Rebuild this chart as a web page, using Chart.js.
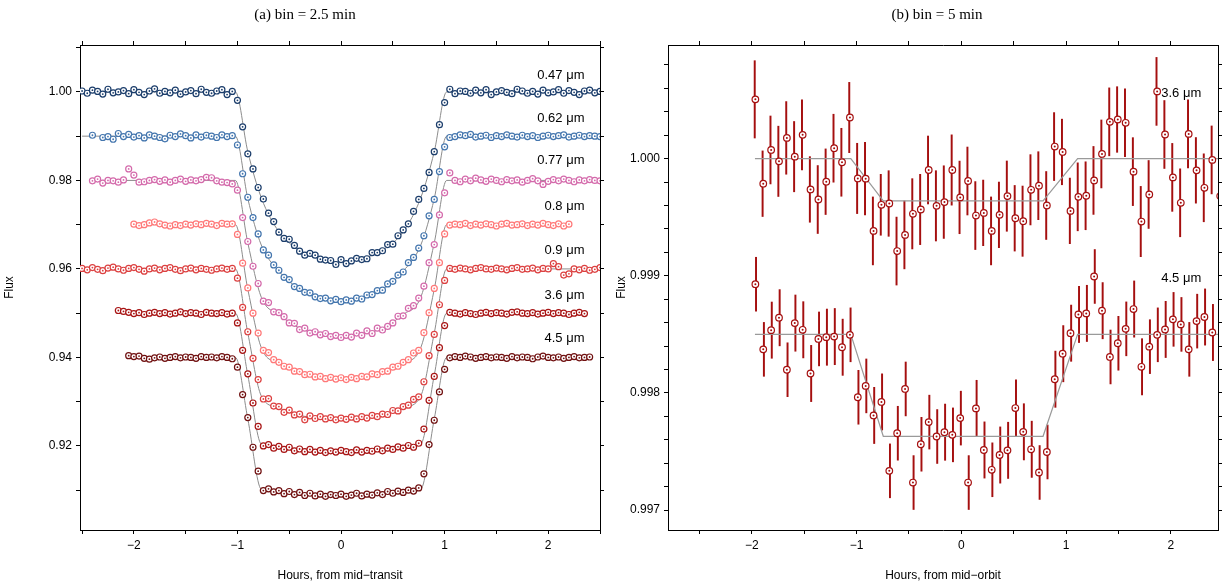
<!DOCTYPE html>
<html><head><meta charset="utf-8">
<script src="https://cdn.jsdelivr.net/npm/chart.js@4"></script>
<style>
body{margin:0;background:#fff;width:1224px;height:585px;position:relative;overflow:hidden}
.panel{position:absolute;top:0;width:612px;height:585px}
.ttl{position:absolute;top:6px;width:240px;text-align:center;font:15px "Liberation Serif",serif;color:#000}
</style></head><body>
<div class="panel" style="left:0"><canvas id="left"></canvas></div>
<div class="panel" style="left:612px"><canvas id="right"></canvas></div>
<div class="ttl" style="left:185px">(a) bin = 2.5 min</div>
<div class="ttl" style="left:817px">(b) bin = 5 min</div>
<script>
// ---- panel (a): binned light curves, 0.05 h cadence ----
var stepA = 0.05;
var bandNames = ["0.47 μm", "0.62 μm", "0.77 μm", "0.8 μm", "0.9 μm", "3.6 μm", "4.5 μm"];
var bandColors = ["#1b3d6b", "#4476ae", "#d46aab", "#ff7878", "#dc4040", "#a81414", "#701010"];
var bandStart = [-2.5, -2.5, -2.4, -2.0, -2.5, -2.15, -2.05];
var labelY = [1.0038, 0.9939, 0.9845, 0.9742, 0.9641, 0.9541, 0.9444];

var f047 = [1.0002,0.9997,1.0004,1.0001,0.9995,1.0006,0.9998,1.0000,1.0003,0.9996,
1.0005,0.9999,0.9994,1.0002,1.0007,0.9997,1.0001,0.9998,1.0004,0.9995,
1.0000,1.0003,0.9996,1.0006,0.9999,0.9997,1.0002,1.0005,0.9994,1.0001,
0.9981,0.9921,0.9860,0.9826,0.9784,0.9758,0.9726,0.9707,0.9683,0.9669,
0.9667,0.9653,0.9640,0.9631,0.9635,0.9631,0.9622,0.9620,0.9619,0.9610,
0.9621,0.9612,0.9618,0.9624,0.9621,0.9623,0.9637,0.9637,0.9641,0.9655,
0.9656,0.9675,0.9688,0.9702,0.9730,0.9757,0.9782,0.9818,0.9865,0.9926,0.9976,
1.0006,0.9996,1.0002,1.0001,0.9997,1.0004,0.9998,1.0005,0.9994,
1.0000,1.0003,0.9999,0.9996,1.0006,1.0002,0.9997,1.0001,0.9995,1.0004,
0.9998,1.0000,1.0005,0.9997,1.0003,0.9999,0.9994,1.0002,1.0004,0.9998,1.0001];

var f062 = [null,null,0.9902,null,0.9897,0.9899,0.9893,0.9906,0.9899,0.9904,
0.9898,0.9901,0.9896,0.9903,0.9900,0.9897,0.9894,0.9902,0.9899,0.9905,
0.9901,0.9896,0.9903,0.9898,0.9902,0.9900,0.9897,0.9903,0.9899,0.9901,
0.9880,0.9815,0.9762,0.9716,0.9679,0.9643,0.9631,0.9609,0.9597,0.9581,
0.9576,0.9560,0.9556,0.9547,0.9546,0.9537,0.9533,0.9534,0.9528,0.9531,0.9526,
0.9530,0.9527,0.9534,0.9532,0.9541,0.9542,0.9551,0.9552,0.9566,0.9572,
0.9586,0.9593,0.9614,0.9626,0.9647,0.9675,0.9720,0.9757,0.9820,0.9876,
0.9897,0.9899,0.9903,0.9901,0.9904,0.9898,0.9900,0.9902,0.9897,0.9901,
0.9899,0.9903,0.9900,0.9898,0.9902,0.9899,0.9901,0.9897,0.9900,0.9902,
0.9899,0.9901,0.9903,0.9898,0.9900,0.9902,0.9899,0.9901,0.9900,0.9899];

var f077 = [0.9799,0.9803,0.9794,0.9800,0.9799,0.9796,0.9801,0.9826,0.9812,0.9796,
0.9797,0.9800,0.9802,0.9798,0.9801,0.9796,0.9800,0.9803,0.9798,0.9801,
0.9799,0.9802,0.9807,0.9806,0.9799,0.9796,0.9795,0.9792,
0.9778,0.9716,0.9662,0.9606,0.9567,0.9527,0.9524,0.9503,0.9501,0.9492,
0.9478,0.9477,0.9463,0.9466,0.9455,0.9458,0.9451,0.9454,0.9447,0.9450,0.9445,
0.9450,0.9446,0.9455,0.9450,0.9460,0.9454,0.9466,0.9462,0.9470,0.9478,
0.9493,0.9494,0.9511,0.9517,0.9534,0.9561,0.9614,0.9655,0.9722,0.9772,
0.9817,0.9800,0.9797,0.9803,0.9799,0.9805,0.9801,0.9798,0.9803,0.9800,
0.9797,0.9802,0.9799,0.9801,0.9796,0.9800,0.9804,0.9799,0.9791,0.9798,
0.9802,0.9799,0.9803,0.9800,0.9797,0.9801,0.9799,0.9802,0.9800,0.9799];

var f080 = [0.9701,0.9698,0.9700,0.9704,0.9706,0.9702,0.9699,0.9697,0.9700,0.9698,
0.9701,0.9699,0.9702,0.9700,0.9703,0.9701,0.9698,0.9703,0.9701,0.9702,
0.9678,0.9613,0.9557,0.9500,0.9455,0.9416,0.9411,0.9395,0.9389,0.9380,
0.9378,0.9369,0.9368,0.9361,0.9362,0.9356,0.9357,0.9352,0.9355,0.9351,0.9354,
0.9350,0.9355,0.9352,0.9357,0.9356,0.9363,0.9361,0.9368,0.9369,0.9378,
0.9380,0.9389,0.9395,0.9410,0.9416,0.9456,0.9501,0.9556,0.9614,0.9679,
0.9699,0.9701,0.9700,0.9703,0.9698,0.9701,0.9699,0.9702,0.9700,0.9697,
0.9701,0.9703,0.9699,0.9700,0.9702,0.9698,0.9701,0.9699,0.9703,0.9700,
0.9698,0.9702,0.9697,0.9701];

var f090 = [0.9601,0.9598,0.9603,0.9599,0.9596,0.9602,0.9604,0.9600,0.9597,0.9601,
0.9603,0.9599,0.9595,0.9600,0.9602,0.9598,0.9601,0.9603,0.9599,0.9596,
0.9600,0.9602,0.9598,0.9601,0.9599,0.9597,0.9600,0.9602,0.9599,0.9601,
0.9579,0.9513,0.9458,0.9398,0.9350,0.9306,0.9307,0.9290,0.9289,0.9276,
0.9281,0.9270,0.9272,0.9259,0.9268,0.9262,0.9266,0.9261,0.9264,0.9259,0.9263,
0.9260,0.9265,0.9261,0.9266,0.9263,0.9269,0.9266,0.9272,0.9271,0.9280,
0.9279,0.9289,0.9292,0.9305,0.9311,0.9345,0.9404,0.9452,0.9519,0.9574,
0.9601,0.9599,0.9602,0.9600,0.9598,0.9601,0.9603,0.9600,0.9599,0.9602,
0.9600,0.9598,0.9601,0.9603,0.9599,0.9600,0.9602,0.9598,0.9601,0.9600,
0.9612,0.9605,0.9586,0.9589,0.9600,0.9598,0.9601,0.9597,0.9599,0.9603];

var f360 = [0.9506,0.9504,0.9502,0.9499,0.9501,0.9497,0.9500,0.9502,0.9499,0.9501,
0.9498,0.9500,0.9503,0.9499,0.9501,0.9500,0.9497,0.9502,0.9500,0.9499,
0.9501,0.9498,0.9500,
0.9478,0.9416,0.9363,0.9297,0.9244,0.9200,0.9203,0.9195,0.9199,0.9192,
0.9197,0.9189,0.9193,0.9187,0.9192,0.9186,0.9190,0.9185,0.9189,0.9186,0.9190,
0.9187,0.9185,0.9191,0.9186,0.9190,0.9188,0.9193,0.9189,0.9195,0.9192,
0.9198,0.9195,0.9201,0.9197,0.9206,0.9238,0.9303,0.9357,0.9422,0.9472,
0.9502,0.9500,0.9498,0.9501,0.9499,0.9497,0.9500,0.9502,0.9499,0.9501,
0.9500,0.9498,0.9502,0.9503,0.9500,0.9499,0.9501,0.9498,0.9500,0.9502,
0.9499,0.9501,0.9500,0.9497,0.9500,0.9502,0.9499];

var f450 = [0.9404,0.9402,0.9403,0.9398,0.9396,0.9399,0.9401,0.9398,0.9400,0.9402,
0.9399,0.9401,0.9400,0.9398,0.9402,0.9400,0.9401,0.9399,0.9402,0.9400,0.9397,
0.9378,0.9316,0.9264,0.9197,0.9143,0.9099,0.9103,0.9096,0.9099,0.9092,
0.9097,0.9090,0.9095,0.9088,0.9093,0.9087,0.9091,0.9086,0.9090,0.9088,0.9091,
0.9086,0.9089,0.9093,0.9087,0.9091,0.9089,0.9094,0.9090,0.9097,0.9093,
0.9098,0.9095,0.9100,0.9098,0.9105,0.9137,0.9203,0.9258,0.9322,0.9373,
0.9399,0.9402,0.9400,0.9403,0.9401,0.9398,0.9400,0.9402,0.9399,0.9401,
0.9400,0.9398,0.9402,0.9399,0.9401,0.9400,0.9397,0.9401,0.9403,0.9400,
0.9399,0.9401,0.9398,0.9400,0.9402,0.9399,0.9400,0.9401];

var bandFlux = [f047, f062, f077, f080, f090, f360, f450];

// transit model knots (hours), per-band model flux
var modelX = [-1.02,-0.9,-0.77,-0.6,-0.4,-0.2,0,0.2,0.4,0.6,0.77,0.9,1.02];
var m047 = [1.000,0.9865,0.9761,0.9684,0.9642,0.9623,0.9615,0.9623,0.9642,0.9684,0.9761,0.9865,1.000];
var m062 = [0.990,0.9759,0.9654,0.9595,0.9554,0.9535,0.9528,0.9535,0.9554,0.9595,0.9654,0.9759,0.990];
var m077 = [0.980,0.9659,0.9536,0.9497,0.9466,0.9453,0.9448,0.9453,0.9466,0.9497,0.9536,0.9659,0.980];
var m080 = [0.970,0.9554,0.9422,0.9387,0.9366,0.9356,0.9352,0.9356,0.9366,0.9387,0.9422,0.9554,0.970];
var m090 = [0.960,0.9455,0.9313,0.9286,0.9269,0.9264,0.9262,0.9264,0.9269,0.9286,0.9313,0.9455,0.960];
var m360 = [0.950,0.9360,0.9204,0.9196,0.9191,0.9188,0.9188,0.9188,0.9191,0.9196,0.9204,0.9360,0.950];
var m450 = [0.940,0.9261,0.9102,0.9096,0.9093,0.9090,0.9090,0.9090,0.9093,0.9096,0.9102,0.9261,0.940];
var bandModel = [m047, m062, m077, m080, m090, m360, m450];

// ---- panel (b): Spitzer, 5 min bins ----
var startB = -1.966, stepB = 0.0752;
var r36 = [1.000506,0.999786,1.000074,0.999977,1.000177,1.000017,1.000203,0.999737,0.999651,0.999803,
1.000089,0.999969,1.000351,0.999831,0.999829,0.999383,0.999606,0.999617,0.999211,0.999349,
0.999529,0.999566,0.999903,0.999597,0.999629,0.999903,0.999669,0.999809,0.999514,0.999537,
0.999383,0.999520,0.999680,0.999491,0.999466,0.999734,0.999769,0.999600,1.000103,1.000057,
0.999554,0.999674,0.999683,0.999814,1.000040,1.000314,1.000334,1.000306,0.999889,0.999463,
0.999694,1.000574,1.000206,0.999840,0.999623,1.000211,0.999900,0.999751,0.999989,0.999680];
var e36 = [0.00033,0.00028,0.00029,0.00030,0.00031,0.00030,0.00030,0.00028,0.00029,0.00028,
0.00029,0.00029,0.00030,0.00030,0.00031,0.00029,0.00026,0.00028,0.00029,0.00029,
0.00030,0.00030,0.00029,0.00030,0.00031,0.00030,0.00031,0.00029,0.00029,0.00028,
0.00029,0.00028,0.00030,0.00028,0.00030,0.00030,0.00029,0.00029,0.00029,0.00028,
0.00028,0.00029,0.00029,0.00029,0.00029,0.00029,0.00028,0.00029,0.00029,0.00030,
0.00029,0.00029,0.00029,0.00029,0.00029,0.00029,0.00028,0.00029,0.00029,0.00030];
var r45 = [0.998928,0.998372,0.998536,0.998642,0.998198,0.998596,0.998539,0.998166,0.998461,0.998476,
0.998481,0.998390,0.998496,0.997963,0.998060,0.997808,0.997923,0.997335,0.997656,0.998034,
0.997235,0.997562,0.997751,0.997628,0.997665,0.997642,0.997785,0.997235,0.997868,0.997513,
0.997344,0.997470,0.997510,0.997871,0.997668,0.997519,0.997321,0.997496,0.998117,0.998335,
0.998510,0.998670,0.998679,0.998994,0.998702,0.998307,0.998424,0.998547,0.998716,0.998223,
0.998395,0.998496,0.998542,0.998628,0.998585,0.998372,0.998613,0.998648,0.998516];
var e45 = [0.00023,0.00023,0.00024,0.00024,0.00023,0.00024,0.00024,0.00024,0.00023,0.00024,
0.00024,0.00024,0.00023,0.00023,0.00023,0.00024,0.00024,0.00023,0.00023,0.00023,
0.00023,0.00023,0.00023,0.00023,0.00024,0.00023,0.00023,0.00023,0.00024,0.00024,
0.00023,0.00024,0.00024,0.00024,0.00024,0.00024,0.00023,0.00023,0.00024,0.00024,
0.00024,0.00024,0.00024,0.00023,0.00024,0.00023,0.00023,0.00023,0.00024,0.00024,
0.00023,0.00023,0.00024,0.00023,0.00023,0.00023,0.00023,0.00024,0.00024];
var rModelX = [-1.97,-1.055,-0.745,0.78,1.11,2.47];
var rModel36 = [1.0,1.0,0.99964,0.99964,1.0,1.0];
var rModel45 = [0.9985,0.9985,0.99763,0.99763,0.9985,0.9985];
var rNames = ["3.6 μm", "4.5 μm"];
var rLabelY = [1.00056, 0.99898];

var FONT = '"Liberation Sans", Arial, sans-serif';

function pts(start, step, vals) {
    return vals.map((v, i) => ({ x: start + i * step, y: v }));
}

function labelPlugin(names, ys, xr) {
    return {
        id: "bandLabels",
        afterDatasetsDraw(chart) {
            const ctx = chart.ctx, sx = chart.scales.x, sy = chart.scales.y;
            ctx.save();
            ctx.font = "13px " + FONT;
            ctx.fillStyle = "#000";
            ctx.textAlign = "right";
            ctx.textBaseline = "middle";
            names.forEach((n, i) => ctx.fillText(n, sx.getPixelForValue(xr), sy.getPixelForValue(ys[i])));
            ctx.restore();
        }
    };
}

function axis(pos, min, max, step, labelFn, size, title) {
    const horiz = pos === "bottom" || pos === "top";
    return {
        type: "linear", position: pos, min: min, max: max, offset: false,
        afterBuildTicks(scale) {
            const t = [];
            for (let k = Math.ceil(min / step - 1e-9); k * step <= max + 1e-12; k++) t.push({ value: +(k * step).toFixed(6) });
            scale.ticks = t;
        },
        afterFit(scale) { if (horiz) scale.height = size; else scale.width = size; },
        ticks: { display: !!labelFn, callback: labelFn || (() => ""), font: { family: FONT, size: 12 }, color: "#000", autoSkip: false, maxRotation: 0, padding: 4 },
        grid: { drawOnChartArea: false, drawTicks: true, tickLength: 4, color: "#000", offset: false },
        border: { color: "#000", width: 1 },
        title: { display: !!title, text: title, font: { family: FONT, size: 12 }, color: "#000", padding: { top: 2, bottom: 2 } }
    };
}

function hourLabel(v) {
    if (Math.abs(v - Math.round(v)) > 1e-6) return "";
    return v < 0 ? "\u2212" + Math.abs(Math.round(v)) : String(Math.round(v));
}

// ---- build panel (a) ----
var dsA = [];
bandNames.forEach((name, b) => {
    const data = pts(bandStart[b], stepA, bandFlux[b]);
    const last = bandStart[b] + (bandFlux[b].length - 1) * stepA;
    const m = bandModel[b];
    const mline = [{ x: bandStart[b], y: m[0] }].concat(modelX.map((x, i) => ({ x: x, y: m[i] })), [{ x: last, y: m[0] }]);
    dsA.push({ type: "line", data: mline, borderColor: "#8c8c8c", borderWidth: 1, pointRadius: 0, cubicInterpolationMode: "monotone", order: 3 });
    dsA.push({ type: "line", data: data, showLine: false, pointRadius: 3, pointBorderWidth: 1.2, pointBorderColor: bandColors[b], pointBackgroundColor: "#fff", order: 2 });
    dsA.push({ type: "line", data: data, showLine: false, pointRadius: 0.9, pointBorderWidth: 0, pointBackgroundColor: bandColors[b], order: 1 });
});

new Chart(document.getElementById("left"), {
    type: "line",
    data: { datasets: dsA },
    options: {
        responsive: true, maintainAspectRatio: false, animation: false,
        layout: { padding: 0 },
        plugins: { legend: { display: false }, tooltip: { enabled: false } },
        scales: {
            x: axis("bottom", -2.52, 2.5, 0.5, hourLabel, 55, "Hours, from mid\u2212transit"),
            x2: axis("top", -2.52, 2.5, 0.5, null, 45),
            y: axis("left", 0.901, 1.0106, 0.01, v => (Math.round(v * 100) % 2 === 0 ? v.toFixed(2) : ""), 80, "Flux"),
            y2: axis("right", 0.901, 1.0106, 0.01, null, 12)
        }
    },
    plugins: [labelPlugin(bandNames, labelY, 2.35)]
});

// ---- build panel (b) ----
var RED = "#a50f0f";
var dsB = [];
[[r36, e36, rModel36], [r45, e45, rModel45]].forEach(s => {
    const data = pts(startB, stepB, s[0]);
    const bars = s[0].map((v, i) => ({ x: startB + i * stepB, y: [v - s[1][i], v + s[1][i]] }));
    dsB.push({ type: "bar", data: bars, backgroundColor: RED, barThickness: 1.3, order: 4 });
    dsB.push({ type: "line", data: rModelX.map((x, i) => ({ x: x, y: s[2][i] })), borderColor: "#9a9a9a", borderWidth: 1.2, pointRadius: 0, tension: 0, order: 3 });
    dsB.push({ type: "line", data: data, showLine: false, pointRadius: 3.3, pointBorderWidth: 1.2, pointBorderColor: RED, pointBackgroundColor: "#fff", order: 2 });
    dsB.push({ type: "line", data: data, showLine: false, pointRadius: 1, pointBorderWidth: 0, pointBackgroundColor: RED, order: 1 });
});

new Chart(document.getElementById("right"), {
    type: "line",
    data: { datasets: dsB },
    options: {
        responsive: true, maintainAspectRatio: false, animation: false,
        layout: { padding: 0 },
        plugins: { legend: { display: false }, tooltip: { enabled: false } },
        scales: {
            x: axis("bottom", -2.8, 2.45, 0.5, hourLabel, 55, "Hours, from mid\u2212orbit"),
            x2: axis("top", -2.8, 2.45, 0.5, null, 45),
            y: axis("left", 0.99683, 1.00097, 0.0002, v => (Math.round(v * 10000) % 10 === 0 ? v.toFixed(3) : ""), 56, "Flux"),
            y2: axis("right", 0.99683, 1.00097, 0.0002, null, 6)
        }
    },
    plugins: [labelPlugin(rNames, rLabelY, 2.29)]
});
</script>
</body></html>
